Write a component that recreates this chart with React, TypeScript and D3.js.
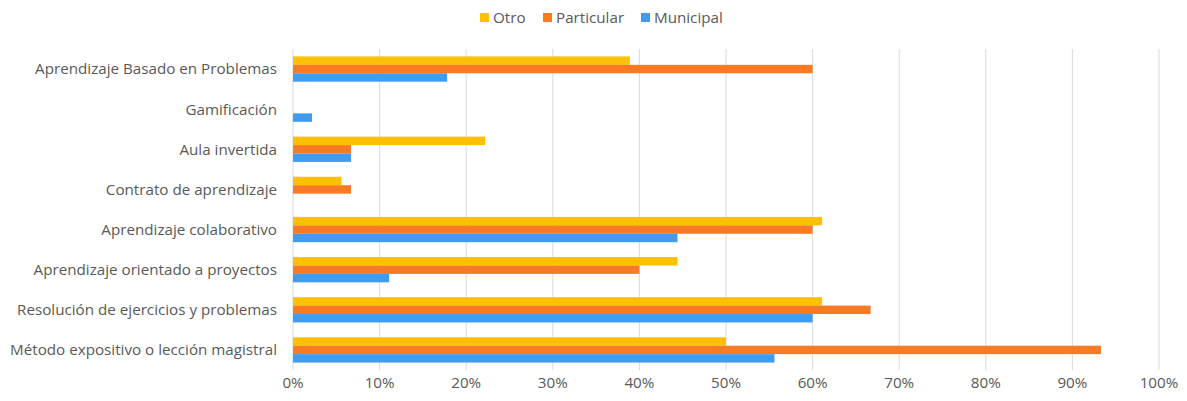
import React from "react";
import * as d3 from "d3";

const categories = [
  "Aprendizaje Basado en Problemas",
  "Gamificación",
  "Aula invertida",
  "Contrato de aprendizaje",
  "Aprendizaje colaborativo",
  "Aprendizaje orientado a proyectos",
  "Resolución de ejercicios y problemas",
  "Método expositivo o lección magistral",
];

const series = ["Otro", "Particular", "Municipal"];

const otro = [0.389, 0, 0.222, 0.056, 0.611, 0.444, 0.611, 0.5];
const particular = [0.6, 0, 0.067, 0.067, 0.6, 0.4, 0.667, 0.933];
const municipal = [0.178, 0.022, 0.067, 0, 0.444, 0.111, 0.6, 0.556];

const ticks = [0, 0.1, 0.2, 0.3, 0.4, 0.5, 0.6, 0.7, 0.8, 0.9, 1];

const colors: Record<string, string> = {
  Otro: "#FFC000",
  Particular: "#F87A22",
  Municipal: "#409CEF",
};

const width = 1187;
const height = 401;
const margin = { top: 49, right: 28, bottom: 31, left: 293 };
const font = "'Open Sans', sans-serif";
const fs = 15.2;

export default function App() {
  const values: Record<string, number[]> = { Otro: otro, Particular: particular, Municipal: municipal };

  const x = d3.scaleLinear().domain([0, 1]).range([margin.left, width - margin.right]);
  const y = d3
    .scaleBand()
    .domain(categories)
    .range([margin.top, height - margin.bottom])
    .paddingInner(0.37)
    .paddingOuter(0.185);
  const inner = d3.scaleBand().domain(series).range([0, y.bandwidth()]);

  const fmt = d3.format(".0%");

  return (
    <div style={{ position: "absolute", left: 0, top: 0 }}>
      <svg width={width} height={height} style={{ display: "block", background: "#fff" }}>
        {ticks.map((t) => (
          <line
            key={t}
            x1={x(t)}
            x2={x(t)}
            y1={margin.top}
            y2={height - margin.bottom}
            stroke="#d9d9d9"
            strokeWidth={1}
          />
        ))}
        {ticks.map((t) => (
          <text
            key={"l" + t}
            x={x(t)}
            y={388}
            textAnchor="middle"
            fontFamily={font}
            fontSize={fs}
            fill="#595959"
          >
            {fmt(t)}
          </text>
        ))}
        {categories.map((c, i) => (
          <g key={c}>
            <text
              x={277}
              y={(y(c) ?? 0) + y.bandwidth() / 2}
              dy="0.35em"
              textAnchor="end"
              fontFamily={font}
              fontSize={fs}
              fill="#595959"
            >
              {c}
            </text>
            {series.map((s) =>
              values[s][i] > 0 ? (
                <rect
                  key={s}
                  x={x(0)}
                  y={(y(c) ?? 0) + (inner(s) ?? 0)}
                  width={x(values[s][i]) - x(0)}
                  height={inner.bandwidth()}
                  fill={colors[s]}
                />
              ) : null
            )}
          </g>
        ))}
        {series.map((s, i) => {
          const lx = [480, 543, 641][i];
          return (
            <g key={s} transform={`translate(${lx},0)`}>
              <rect x={0} y={13} width={9} height={9} fill={colors[s]} />
              <text x={13} y={23} fontFamily={font} fontSize={fs} fill="#595959">
                {s}
              </text>
            </g>
          );
        })}
      </svg>
    </div>
  );
}
